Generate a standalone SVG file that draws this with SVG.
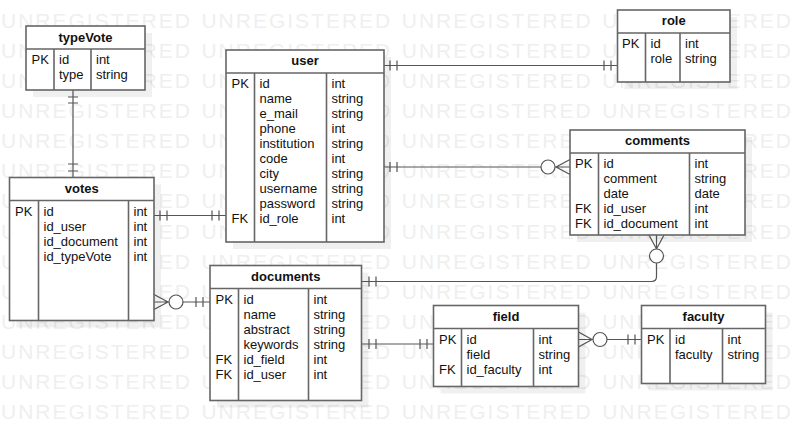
<svg xmlns="http://www.w3.org/2000/svg" width="807" height="441" viewBox="0 0 807 441">
<style>
.wm{font-family:"Liberation Sans",Arial,sans-serif;font-size:21px;letter-spacing:2px;word-spacing:1.7px;fill:#efefef}
.sh{fill:#000;opacity:0.06}
.box{fill:#fff;stroke:#666;stroke-width:1.6}
.dv{stroke:#666;stroke-width:1.6;fill:none}
.t{font-family:"Liberation Sans",Arial,sans-serif;font-size:13px;fill:#111}
.h{font-family:"Liberation Sans",Arial,sans-serif;font-size:13px;font-weight:bold;fill:#111;text-anchor:middle}
.c{stroke:#555;stroke-width:1.2;fill:none}
.o{stroke:#555;stroke-width:1.2;fill:#fff}
</style>
<rect width="807" height="441" fill="#fff"/>
<g id="watermark">
<text class="wm" x="1" y="27.5">UNREGISTERED UNREGISTERED UNREGISTERED UNREGISTERED</text>
<text class="wm" x="1" y="57.6">UNREGISTERED UNREGISTERED UNREGISTERED UNREGISTERED</text>
<text class="wm" x="1" y="87.8">UNREGISTERED UNREGISTERED UNREGISTERED UNREGISTERED</text>
<text class="wm" x="1" y="117.9">UNREGISTERED UNREGISTERED UNREGISTERED UNREGISTERED</text>
<text class="wm" x="1" y="148.1">UNREGISTERED UNREGISTERED UNREGISTERED UNREGISTERED</text>
<text class="wm" x="1" y="178.2">UNREGISTERED UNREGISTERED UNREGISTERED UNREGISTERED</text>
<text class="wm" x="1" y="208.4">UNREGISTERED UNREGISTERED UNREGISTERED UNREGISTERED</text>
<text class="wm" x="1" y="238.5">UNREGISTERED UNREGISTERED UNREGISTERED UNREGISTERED</text>
<text class="wm" x="1" y="268.7">UNREGISTERED UNREGISTERED UNREGISTERED UNREGISTERED</text>
<text class="wm" x="1" y="298.8">UNREGISTERED UNREGISTERED UNREGISTERED UNREGISTERED</text>
<text class="wm" x="1" y="329">UNREGISTERED UNREGISTERED UNREGISTERED UNREGISTERED</text>
<text class="wm" x="1" y="359.1">UNREGISTERED UNREGISTERED UNREGISTERED UNREGISTERED</text>
<text class="wm" x="1" y="389.3">UNREGISTERED UNREGISTERED UNREGISTERED UNREGISTERED</text>
<text class="wm" x="1" y="419.4">UNREGISTERED UNREGISTERED UNREGISTERED UNREGISTERED</text>
</g>
<g id="connectors">
<path class="c" d="M73 90V177.5 M68 97H78 M68 103H78 M68 164H78 M68 171H78"/>
<path class="c" d="M154 215.5H226 M160 210.5V220.5 M167 210.5V220.5 M212 210.5V220.5 M219 210.5V220.5"/>
<path class="c" d="M384 65.5H617.5 M390 60.5V70.5 M397 60.5V70.5 M604 60.5V70.5 M611 60.5V70.5"/>
<path class="c" d="M384 167H570 M390 162V172 M397 162V172 M570 159.5L556 167L570 174.5"/>
<circle class="o" cx="548" cy="167" r="7"/>
<path class="c" d="M656.5 235V276.5Q656.5 281.5 651.5 281.5H361.5 M649 235L656.5 249L664 235 M369 276.5V286.5 M376 276.5V286.5"/>
<circle class="o" cx="656.5" cy="256" r="7"/>
<path class="c" d="M154 302H210 M154 294.5L168 302L154 309.5 M196 297V307 M203 297V307"/>
<circle class="o" cx="176" cy="302" r="7"/>
<path class="c" d="M361.5 344H433.5 M369 339V349 M376 339V349 M420 339V349 M427 339V349"/>
<path class="c" d="M578.5 339.5H641.5 M578.5 332L592 339.5L578.5 347 M628 334.5V344.5 M635 334.5V344.5"/>
<circle class="o" cx="600" cy="339.5" r="7"/>
</g>
<g id="typeVote">
<rect class="sh" x="33" y="33" width="119" height="64"/>
<rect class="box" x="26" y="26" width="119" height="64"/>
<path class="dv" d="M26 49H145 M54 49V90 M91 49V90"/>
<text class="h" x="85.5" y="41.5">typeVote</text>
<text class="t" x="31.5" y="64">PK</text>
<text class="t" x="59" y="64">id</text><text class="t" x="59" y="79">type</text>
<text class="t" x="96" y="64">int</text><text class="t" x="96" y="79">string</text>
</g>
<g id="votes">
<rect class="sh" x="16.5" y="184.5" width="144.5" height="143"/>
<rect class="box" x="9.5" y="177.5" width="144.5" height="143"/>
<path class="dv" d="M9.5 200.5H154 M38.5 200.5V320.5 M128.5 200.5V320.5"/>
<text class="h" x="81.75" y="192.5">votes</text>
<text class="t" x="15" y="215.5">PK</text>
<text class="t" x="43.5" y="215.5">id</text><text class="t" x="43.5" y="230.5">id_user</text><text class="t" x="43.5" y="245.5">id_document</text><text class="t" x="43.5" y="260.5">id_typeVote</text>
<text class="t" x="133.5" y="215.5">int</text><text class="t" x="133.5" y="230.5">int</text><text class="t" x="133.5" y="245.5">int</text><text class="t" x="133.5" y="260.5">int</text>
</g>
<g id="user">
<rect class="sh" x="233" y="57" width="158" height="192"/>
<rect class="box" x="226" y="50" width="158" height="192"/>
<path class="dv" d="M226 73H384 M254.5 73V242 M326.5 73V242"/>
<text class="h" x="305" y="65">user</text>
<text class="t" x="231.5" y="88">PK</text>
<text class="t" x="231.5" y="223">FK</text>
<text class="t" x="259.5" y="88">id</text>
<text class="t" x="259.5" y="103">name</text>
<text class="t" x="259.5" y="118">e_mail</text>
<text class="t" x="259.5" y="133">phone</text>
<text class="t" x="259.5" y="148">institution</text>
<text class="t" x="259.5" y="163">code</text>
<text class="t" x="259.5" y="178">city</text>
<text class="t" x="259.5" y="193">username</text>
<text class="t" x="259.5" y="208">password</text>
<text class="t" x="259.5" y="223">id_role</text>
<text class="t" x="331.5" y="88">int</text>
<text class="t" x="331.5" y="103">string</text>
<text class="t" x="331.5" y="118">string</text>
<text class="t" x="331.5" y="133">int</text>
<text class="t" x="331.5" y="148">string</text>
<text class="t" x="331.5" y="163">int</text>
<text class="t" x="331.5" y="178">string</text>
<text class="t" x="331.5" y="193">string</text>
<text class="t" x="331.5" y="208">string</text>
<text class="t" x="331.5" y="223">int</text>
</g>
<g id="role">
<rect class="sh" x="624.5" y="17" width="112.5" height="72"/>
<rect class="box" x="617.5" y="10" width="112.5" height="72"/>
<path class="dv" d="M617.5 33H730 M645.5 33V82 M680 33V82"/>
<text class="h" x="673.75" y="25">role</text>
<text class="t" x="622" y="48">PK</text>
<text class="t" x="650.5" y="48">id</text><text class="t" x="650.5" y="63">role</text>
<text class="t" x="685" y="48">int</text><text class="t" x="685" y="63">string</text>
</g>
<g id="comments">
<rect class="sh" x="577" y="137" width="175" height="105"/>
<rect class="box" x="570" y="130" width="175" height="105"/>
<path class="dv" d="M570 153H745 M598.5 153V235 M689.5 153V235"/>
<text class="h" x="657.5" y="145">comments</text>
<text class="t" x="575" y="168">PK</text>
<text class="t" x="575" y="213">FK</text>
<text class="t" x="575" y="228">FK</text>
<text class="t" x="603.5" y="168">id</text>
<text class="t" x="603.5" y="183">comment</text>
<text class="t" x="603.5" y="198">date</text>
<text class="t" x="603.5" y="213">id_user</text>
<text class="t" x="603.5" y="228">id_document</text>
<text class="t" x="694.5" y="168">int</text>
<text class="t" x="694.5" y="183">string</text>
<text class="t" x="694.5" y="198">date</text>
<text class="t" x="694.5" y="213">int</text>
<text class="t" x="694.5" y="228">int</text>
</g>
<g id="documents">
<rect class="sh" x="217" y="272.5" width="151.5" height="135"/>
<rect class="box" x="210" y="265.5" width="151.5" height="135"/>
<path class="dv" d="M210 288.5H361.5 M238.5 288.5V400.5 M308.5 288.5V400.5"/>
<text class="h" x="285.75" y="280.5">documents</text>
<text class="t" x="215.5" y="303.5">PK</text>
<text class="t" x="215.5" y="363.5">FK</text>
<text class="t" x="215.5" y="378.5">FK</text>
<text class="t" x="243.5" y="303.5">id</text>
<text class="t" x="243.5" y="318.5">name</text>
<text class="t" x="243.5" y="333.5">abstract</text>
<text class="t" x="243.5" y="348.5">keywords</text>
<text class="t" x="243.5" y="363.5">id_field</text>
<text class="t" x="243.5" y="378.5">id_user</text>
<text class="t" x="313.5" y="303.5">int</text>
<text class="t" x="313.5" y="318.5">string</text>
<text class="t" x="313.5" y="333.5">string</text>
<text class="t" x="313.5" y="348.5">string</text>
<text class="t" x="313.5" y="363.5">int</text>
<text class="t" x="313.5" y="378.5">int</text>
</g>
<g id="field">
<rect class="sh" x="440.5" y="312.5" width="145" height="81"/>
<rect class="box" x="433.5" y="305.5" width="145" height="81"/>
<path class="dv" d="M433.5 328.5H578.5 M461.5 328.5V386.5 M533.5 328.5V386.5"/>
<text class="h" x="506" y="320.5">field</text>
<text class="t" x="439" y="343.5">PK</text>
<text class="t" x="439" y="373.5">FK</text>
<text class="t" x="466.5" y="343.5">id</text><text class="t" x="466.5" y="358.5">field</text><text class="t" x="466.5" y="373.5">id_faculty</text>
<text class="t" x="538.5" y="343.5">int</text><text class="t" x="538.5" y="358.5">string</text><text class="t" x="538.5" y="373.5">int</text>
</g>
<g id="faculty">
<rect class="sh" x="648.5" y="312.5" width="124" height="78"/>
<rect class="box" x="641.5" y="305.5" width="124" height="78"/>
<path class="dv" d="M641.5 328.5H765.5 M670 328.5V383.5 M722.5 328.5V383.5"/>
<text class="h" x="703.5" y="320.5">faculty</text>
<text class="t" x="647" y="343.5">PK</text>
<text class="t" x="675" y="343.5">id</text><text class="t" x="675" y="358.5">faculty</text>
<text class="t" x="727.5" y="343.5">int</text><text class="t" x="727.5" y="358.5">string</text>
</g>
</svg>
